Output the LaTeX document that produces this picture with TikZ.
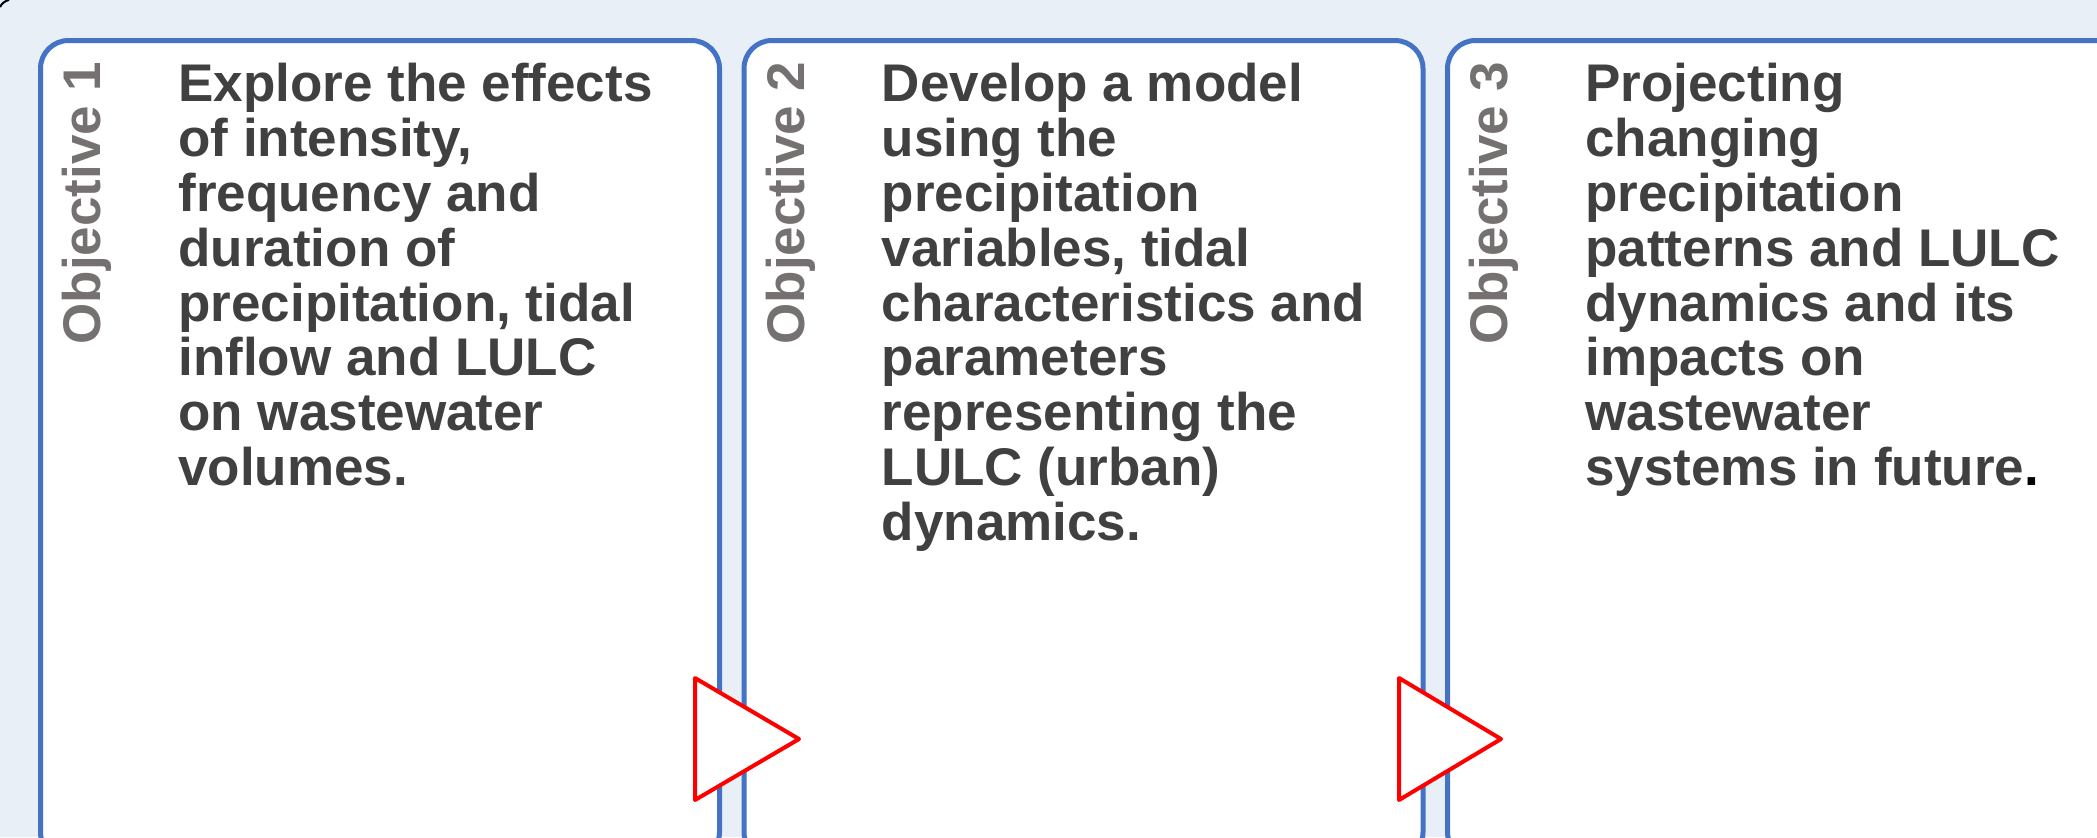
\documentclass[tikz,border=0pt]{standalone}
\usepackage{fontspec}
\setmainfont{Liberation Sans}
\definecolor{bgc}{HTML}{E9EFF7}
\definecolor{boxblue}{HTML}{4472C4}
\definecolor{bodytxt}{HTML}{404040}
\definecolor{labtxt}{HTML}{767171}
\definecolor{arrred}{HTML}{FF0000}
\tikzset{
  objbox/.style={draw=boxblue, line width=2.5pt, fill=white, rounded corners=14pt},
  objlabel/.style={rotate=90, anchor=base west, inner sep=0pt, text=labtxt,
    font=\fontsize{26.5pt}{26.5pt}\selectfont\bfseries},
  objtext/.style={anchor=north west, inner sep=0pt, align=left, text=bodytxt,
    font=\fontsize{26.5pt}{27.4pt}\selectfont\bfseries},
  flowtri/.style={draw=arrred, line width=2pt, fill=white, line join=round}
}
\begin{document}
\begin{tikzpicture}[x=0.5pt,y=-0.5pt]
\useasboundingbox (0,0) rectangle (2097,837);
\clip (0,0) rectangle (2097,837);
\fill[bgc] (0,0) rectangle (2097,837);
\draw[black, line width=1pt] (0,7) .. controls (2,3) and (5,1) .. (9,0);
% boxes
\draw[objbox] (40.5,40.5) rectangle (719.5,860);
\draw[objbox] (744,40.5) rectangle (1423,860);
\draw[objbox] (1447.5,40.5) rectangle (2127,860);
% labels
\node[objlabel] (l1) at (100,345) {Objective 1};
\node[objlabel] (l2) at (804,345) {Objective 2};
\node[objlabel] (l3) at (1507.5,345) {Objective 3};
% texts
\node[objtext] (t1) at (178,63) {Explore the effects\\of intensity,\\frequency and\\duration of\\precipitation, tidal\\inflow and LULC\\on wastewater\\volumes.};
\node[objtext] (t2) at (881.5,63) {Develop a model\\using the\\precipitation\\variables, tidal\\characteristics and\\parameters\\representing the\\LULC (urban)\\dynamics.};
\node[objtext] (t3) at (1585,63) {Projecting\\changing\\precipitation\\patterns and LULC\\dynamics and its\\impacts on\\wastewater\\systems in future\textcolor{black}{.}};
% triangles
\draw[flowtri] (695,678) -- (695,800) -- (799,739) -- cycle;
\draw[flowtri] (1399,678) -- (1399,800) -- (1501,739) -- cycle;
\end{tikzpicture}
\end{document}
